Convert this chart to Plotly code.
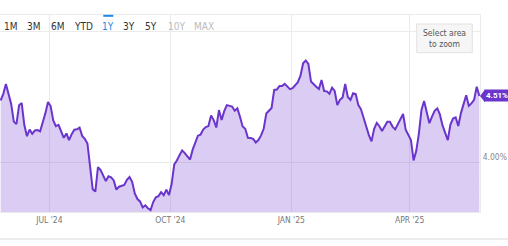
import pandas as pd
import plotly.graph_objects as go

start_date = "2024-05-25"
n_points = 183
values = [
    4.476, 4.526, 4.601, 4.513, 4.449, 4.314, 4.295, 4.439, 4.456, 4.288,
    4.203, 4.253, 4.221, 4.246, 4.250, 4.240, 4.305, 4.377, 4.463, 4.433,
    4.323, 4.280, 4.289, 4.246, 4.190, 4.224, 4.173, 4.218, 4.252, 4.255,
    4.268, 4.205, 4.182, 4.147, 3.961, 3.797, 3.780, 3.966, 3.944, 3.903,
    3.860, 3.896, 3.888, 3.865, 3.795, 3.817, 3.822, 3.830, 3.870, 3.891,
    3.855, 3.766, 3.723, 3.705, 3.659, 3.675, 3.653, 3.639, 3.700, 3.737,
    3.745, 3.776, 3.753, 3.795, 3.753, 3.837, 3.988, 4.017, 4.058, 4.095,
    4.074, 4.049, 4.024, 4.100, 4.147, 4.207, 4.215, 4.253, 4.272, 4.280,
    4.360, 4.326, 4.269, 4.402, 4.326, 4.394, 4.440, 4.434, 4.429, 4.397,
    4.415, 4.351, 4.277, 4.259, 4.190, 4.189, 4.182, 4.155, 4.173, 4.209,
    4.259, 4.376, 4.397, 4.418, 4.556, 4.559, 4.585, 4.585, 4.602, 4.579,
    4.562, 4.569, 4.595, 4.615, 4.665, 4.760, 4.781, 4.754, 4.620, 4.597,
    4.581, 4.563, 4.631, 4.547, 4.545, 4.526, 4.573, 4.548, 4.440, 4.480,
    4.499, 4.601, 4.502, 4.480, 4.530, 4.524, 4.440, 4.408, 4.337, 4.273,
    4.211, 4.164, 4.259, 4.304, 4.279, 4.242, 4.282, 4.313, 4.313, 4.276,
    4.255, 4.292, 4.324, 4.372, 4.252, 4.215, 4.173, 4.018, 4.089, 4.221,
    4.403, 4.471, 4.392, 4.302, 4.352, 4.397, 4.415, 4.369, 4.285, 4.227,
    4.173, 4.291, 4.337, 4.346, 4.280, 4.379, 4.441, 4.516, 4.434, 4.453,
    4.480, 4.580, 4.510,
]
dates = pd.date_range(start_date, periods=n_points, freq="2D")

x_tick_vals = ["2024-07-01", "2024-10-01", "2025-01-01", "2025-04-01"]
x_tick_text = ["JUL '24", "OCT '24", "JAN '25", "APR '25"]
y_tick_vals = [4.0, 5.0]
y_tick_text = ["4.00%", ""]
range_buttons = ["1M", "3M", "6M", "YTD", "1Y", "3Y", "5Y", "10Y", "MAX"]
button_x = [11, 34, 58, 83, 108, 129, 151, 176, 203.5]
button_colors = ["#333", "#333", "#333", "#333", "#1e88e5", "#333", "#333", "#bbbbbb", "#bbbbbb"]

LINE = "#6a35cc"
FILL = "rgba(106,53,204,0.25)"
NARROW = "Liberation Sans Narrow, DejaVu Sans Condensed, Roboto, sans-serif"

W, H = 508, 246
ML, MR, MT, MB = 0, 28, 15, 34
PW = W - ML - MR
PH = H - MT - MB

def px(x):
    return (x - ML) / PW

def py(y):
    return (H - MB - y) / PH

fig = go.Figure()
fig.add_trace(go.Scatter(
    x=dates, y=values, mode="lines",
    line=dict(color=LINE, width=2),
    fill="tozeroy", fillcolor=FILL,
    hoverinfo="skip",
))

annotations = []
for lab, bx, col in zip(range_buttons, button_x, button_colors):
    annotations.append(dict(
        text=lab, x=px(bx), y=py(27), xref="paper", yref="paper",
        showarrow=False, xanchor="center", yanchor="middle",
        font=dict(family=NARROW, size=10, color=col),
    ))

annotations.append(dict(
    text="Select area<br>to zoom", x=px(444.5), y=py(38.5),
    xref="paper", yref="paper", showarrow=False,
    xanchor="center", yanchor="middle",
    font=dict(family=NARROW, size=8.5, color="#555"),
))

last_val = values[-1]
annotations.append(dict(
    text="<b>%.2f%%</b>" % last_val, x=1, y=last_val, xref="paper", yref="y",
    xanchor="left", yanchor="middle", showarrow=False, xshift=4,
    bgcolor=LINE, borderpad=1,
    font=dict(family="Roboto", size=8, color="white"),
))

shapes = [
    dict(type="rect", xref="paper", yref="paper",
         x0=px(416.7), x1=px(472.3), y0=py(52.7), y1=py(24),
         fillcolor="#f6f6f6", line=dict(color="#e2e2e2", width=1), layer="above"),
    dict(type="rect", xref="paper", yref="paper",
         x0=px(103.3), x1=px(113.3), y0=py(16.8), y1=py(14.8),
         fillcolor="#1e88e5", line=dict(width=0), layer="above"),
    dict(type="line", xref="paper", yref="paper",
         x0=px(0), x1=px(508), y0=py(239), y1=py(239),
         line=dict(color="#e6e6e6", width=1.5)),
    # pointer of the last-value tag (pixel-sized, anchored at the last value)
    dict(type="path", xref="paper", yref="y",
         xsizemode="pixel", ysizemode="pixel",
         xanchor=1, yanchor=last_val,
         path="M 0 0 L 5 6.5 L 5 -6.5 Z",
         fillcolor=LINE, line=dict(width=0), layer="above"),
]

fig.update_layout(
    width=W, height=H,
    margin=dict(l=ML, r=MR, t=MT, b=MB),
    paper_bgcolor="white", plot_bgcolor="white",
    showlegend=False,
    annotations=annotations,
    shapes=shapes,
    xaxis=dict(
        range=["2024-05-24 12:00", "2025-05-24 12:00"],
        tickvals=x_tick_vals, ticktext=x_tick_text,
        showgrid=True, gridcolor="#ebebeb", gridwidth=1,
        showline=True, mirror=True, linecolor="#ebebeb", linewidth=1,
        ticks="", zeroline=False,
        tickfont=dict(family=NARROW, size=8.5, color="#777"),
        fixedrange=True,
    ),
    yaxis=dict(
        range=[3.624, 5.128], side="right",
        tickvals=y_tick_vals, ticktext=y_tick_text,
        ticklabelposition="outside top",
        showgrid=True, gridcolor="#ebebeb", gridwidth=1,
        showline=True, linecolor="#ebebeb", linewidth=1,
        ticks="", zeroline=False,
        tickfont=dict(family=NARROW, size=8.5, color="#888"),
        fixedrange=True,
    ),
)

fig.write_html("out.html", config={"displayModeBar": False})
